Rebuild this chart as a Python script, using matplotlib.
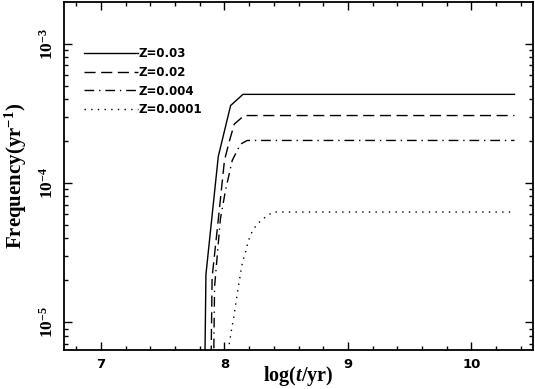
import matplotlib
matplotlib.use("Agg")
import matplotlib.pyplot as plt
from matplotlib.ticker import MultipleLocator, LogLocator, FuncFormatter, NullFormatter
import numpy as np

plt.rcParams["mathtext.fontset"] = "custom"
plt.rcParams["mathtext.rm"] = "Liberation Serif:bold"
plt.rcParams["mathtext.it"] = "Liberation Serif:bold:italic"
plt.rcParams["mathtext.bf"] = "Liberation Serif:bold"

# log(t/yr) and frequency (yr^-1)
t_003 = [7.75, 7.85, 7.95, 8.05, 8.15, 10.35]
f_003 = [1e-12, 2.2e-5, 1.55e-4, 3.6e-4, 4.33e-4, 4.33e-4]

t_002 = [7.80, 7.90, 7.955, 8.00, 8.04, 8.08, 8.16, 10.35]
f_002 = [1e-12, 2.1e-5, 6.0e-5, 1.45e-4, 2.0e-4, 2.65e-4, 3.05e-4, 3.05e-4]

t_0004 = [7.82, 7.92, 7.967, 8.008, 8.063, 8.09, 8.13, 8.185, 10.35]
f_0004 = [1e-12, 1.8e-5, 5.5e-5, 8.8e-5, 1.45e-4, 1.62e-4, 1.9e-4, 2.02e-4, 2.02e-4]

t_00001 = [8.02, 8.035, 8.057, 8.076, 8.092, 8.108, 8.124, 8.138, 8.152, 8.171,
           8.193, 8.217, 8.238, 8.274, 8.315, 8.347, 8.396, 10.35]
f_00001 = [5e-6, 6.65e-6, 8.8e-6, 1.09e-5, 1.36e-5, 1.69e-5, 2.06e-5, 2.49e-5, 2.81e-5, 3.19e-5,
           3.83e-5, 4.33e-5, 4.70e-5, 5.15e-5, 5.53e-5, 5.85e-5, 6.18e-5, 6.18e-5]

labels = ["Z=0.03", "Z=0.02", "Z=0.004", "Z=0.0001"]

fig = plt.figure(figsize=(5.35, 3.89), dpi=100)
ax = fig.add_axes([64 / 535, 39 / 389, 469 / 535, 348 / 389])

lw = 1.0
ax.plot(t_003, f_003, color="black", lw=lw, linestyle="-", label=labels[0])
ax.plot(t_002, f_002, color="black", lw=lw, linestyle=(0, (8, 4)), label=labels[1])
ax.plot(t_0004, f_0004, color="black", lw=lw, linestyle=(0, (7, 3.5, 1, 3.5)), label=labels[2])
ax.plot(t_00001, f_00001, color="black", lw=lw, linestyle=(0, (1, 3.8)), label=labels[3])

ax.set_yscale("log")
ax.set_xlim(6.7, 10.5)
ax.set_ylim(10 ** -5.2, 10 ** -2.7)

ax.xaxis.set_major_locator(MultipleLocator(1))
ax.xaxis.set_minor_locator(MultipleLocator(0.2))
ax.yaxis.set_major_locator(LogLocator(base=10))
ax.yaxis.set_minor_locator(LogLocator(base=10, subs=np.arange(2, 10)))
ax.yaxis.set_minor_formatter(NullFormatter())
ax.yaxis.set_major_formatter(FuncFormatter(lambda v, p: r"$10^{\mathbf{%d}}$" % round(np.log10(v))))

ax.tick_params(which="both", direction="in", top=True, right=True, width=1.0)
ax.tick_params(which="major", length=6)
ax.tick_params(which="minor", length=3)
for lab in ax.get_xticklabels():
    lab.set_fontweight("bold")
    lab.set_fontsize(9.5)
for lab in ax.get_yticklabels():
    lab.set_rotation(90)
    lab.set_va("center")
    lab.set_fontsize(12.5)
ax.tick_params(axis="y", pad=5)
ax.tick_params(axis="x", pad=6)

for sp in ax.spines.values():
    sp.set_linewidth(1.3)

ax.set_xlabel(r"log($t$/yr)", fontsize=14.5, fontfamily="Liberation Serif", fontweight="bold")
ax.xaxis.set_label_coords(0.5, -0.108)
ax.xaxis.label.set_va("bottom")
ax.set_ylabel(r"Frequency(yr$^{-1}$)", fontsize=15, fontfamily="Liberation Serif", fontweight="bold", labelpad=7)

leg = ax.legend(loc="upper left", bbox_to_anchor=(0.02, 0.90), frameon=False,
                handlelength=4.6, handletextpad=0.0, labelspacing=0.47,
                prop={"weight": "bold", "size": 8.5, "family": "DejaVu Sans"})

fig.savefig("out.png", dpi=100)
